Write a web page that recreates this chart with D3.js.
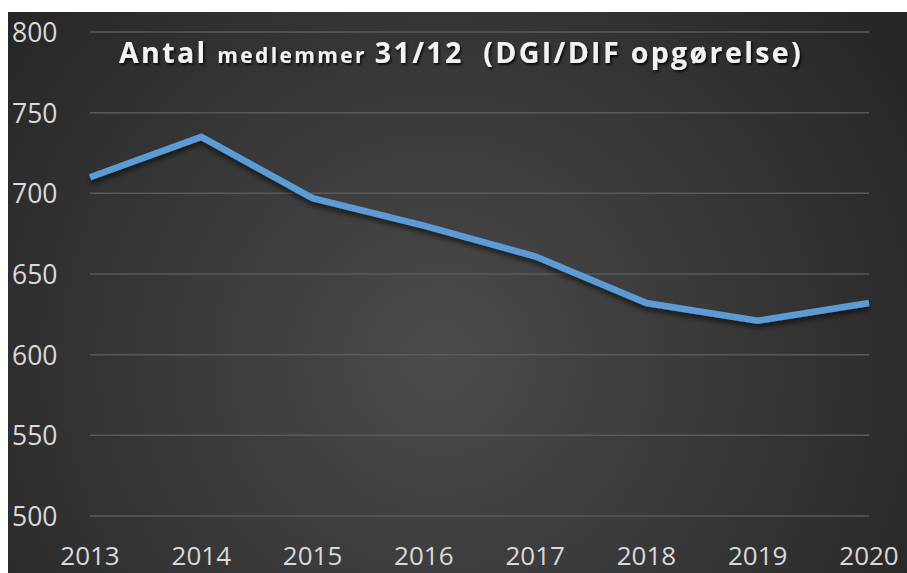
<!DOCTYPE html>
<html>
<head>
<meta charset="UTF-8">
<title>Antal medlemmer</title>
<script src="https://d3js.org/d3.v7.min.js"></script>
<style>
    body { margin: 0; background: #fff; }
    text { font-family: "Open Sans", sans-serif; }
</style>
</head>
<body>
<svg id="chart" width="907" height="573"></svg>
<script>
    const years = [2013, 2014, 2015, 2016, 2017, 2018, 2019, 2020];
    const members = [710, 735, 697, 680, 661, 632, 621, 632];
    const yTicks = [500, 550, 600, 650, 700, 750, 800];
    const titleParts = [
        {text: "Antal ", big: true},
        {text: "medlemmer ", big: false},
        {text: "31/12  (DGI/DIF opgørelse)", big: true}
    ];

    const svg = d3.select('#chart');
    const W = 907, H = 573;

    const defs = svg.append('defs');
    const grad = defs.append('radialGradient')
        .attr('id', 'bg')
        .attr('gradientUnits', 'userSpaceOnUse')
        .attr('cx', 440).attr('cy', 360).attr('r', 560);
    grad.append('stop').attr('offset', '0%').attr('stop-color', '#4b4b4b');
    grad.append('stop').attr('offset', '100%').attr('stop-color', '#262626');

    const lineShadow = defs.append('filter').attr('id', 'lineShadow')
        .attr('x', '-5%').attr('y', '-20%').attr('width', '110%').attr('height', '140%');
    lineShadow.append('feDropShadow')
        .attr('dx', 0).attr('dy', 4).attr('stdDeviation', 2.5)
        .attr('flood-color', '#000').attr('flood-opacity', 0.55);

    const textShadow = defs.append('filter').attr('id', 'textShadow');
    textShadow.append('feDropShadow')
        .attr('dx', 1.5).attr('dy', 2).attr('stdDeviation', 1.2)
        .attr('flood-color', '#000').attr('flood-opacity', 0.8);

    // chart area background
    svg.append('rect')
        .attr('x', 8).attr('y', 12)
        .attr('width', W - 8).attr('height', H - 12)
        .attr('fill', 'url(#bg)');

    const x = d3.scalePoint().domain(years).range([90, 869]);
    const y = d3.scaleLinear().domain([500, 800]).range([516, 32]);

    // grid lines
    svg.append('g')
        .selectAll('line')
        .data(yTicks)
        .join('line')
        .attr('x1', 90).attr('x2', 869)
        .attr('y1', d => y(d)).attr('y2', d => y(d))
        .attr('stroke', '#5a5a5a')
        .attr('stroke-width', 1.5);

    // y labels
    svg.append('g')
        .selectAll('text')
        .data(yTicks)
        .join('text')
        .attr('x', 12)
        .attr('y', d => y(d) + 10)
        .attr('font-size', 26.5)
        .attr('fill', '#d9d9d9')
        .text(d => d);

    // x labels
    svg.append('g')
        .selectAll('text')
        .data(years)
        .join('text')
        .attr('x', d => x(d))
        .attr('y', 565)
        .attr('text-anchor', 'middle')
        .attr('font-size', 26)
        .attr('fill', '#d9d9d9')
        .text(d => d);

    // line
    const line = d3.line()
        .x((d, i) => x(years[i]))
        .y(d => y(d));

    svg.append('path')
        .datum(members)
        .attr('d', line)
        .attr('fill', 'none')
        .attr('stroke', '#5b9bd5')
        .attr('stroke-width', 6.5)
        .attr('stroke-linejoin', 'miter')
        .attr('filter', 'url(#lineShadow)');

    // title
    const title = svg.append('text')
        .attr('x', 119)
        .attr('y', 63)
        .attr('fill', '#f2f2f2')
        .attr('font-weight', 700)
        .style('white-space', 'pre')
        .attr('filter', 'url(#textShadow)');
    title.selectAll('tspan')
        .data(titleParts)
        .join('tspan')
        .attr('font-size', d => d.big ? 28.5 : 21)
        .text(d => d.text);

    // stretch the title to the same width as the original
    const target = 684;
    const len = title.node().getComputedTextLength();
    const chars = titleParts.map(d => d.text).join('').length;
    title.attr('letter-spacing', (target - len) / chars);
</script>
</body>
</html>
